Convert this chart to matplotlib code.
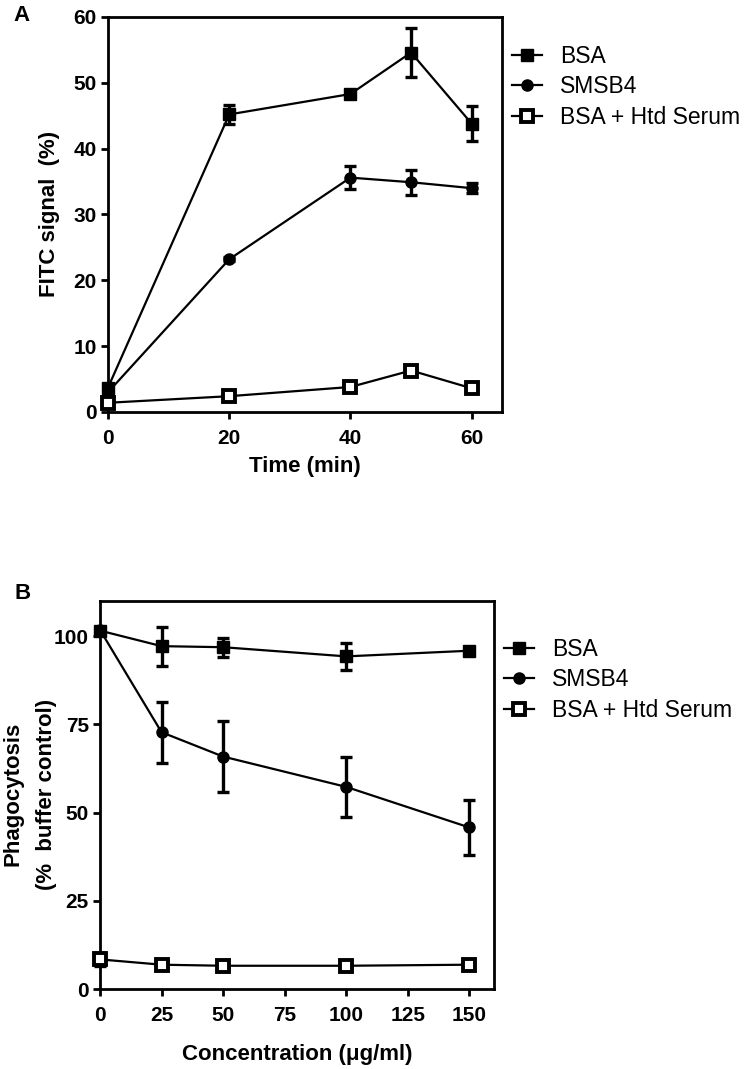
import matplotlib
matplotlib.use("Agg")
import matplotlib.pyplot as plt

plt.rcParams['font.family'] = ['Liberation Sans', 'DejaVu Sans']

# panel A: FITC signal over time
time_min = [0, 20, 40, 50, 60]
bsa_a = [3.7, 45.2, 48.3, 54.6, 43.8]
bsa_a_err = [0.5, 1.5, 0.4, 3.7, 2.7]
smsb4_a = [3.0, 23.2, 35.6, 34.9, 34.0]
smsb4_a_err = [0.4, 0.3, 1.8, 1.9, 0.8]
htd_a = [1.4, 2.4, 3.8, 6.3, 3.6]
htd_a_err = [0.3, 0.3, 0.3, 0.4, 0.3]

# panel B: phagocytosis vs concentration
conc = [0, 25, 50, 100, 150]
bsa_b = [101.6, 97.2, 96.9, 94.3, 95.9]
bsa_b_err = [0.5, 5.5, 2.7, 3.8, 0.5]
smsb4_b = [101.8, 72.8, 65.9, 57.3, 45.8]
smsb4_b_err = [0.5, 8.6, 10.0, 8.6, 7.8]
htd_b = [8.4, 6.9, 6.6, 6.6, 6.9]
htd_b_err = [1.8, 1.2, 1.2, 1.2, 1.2]

labels = ['BSA', 'SMSB4', 'BSA + Htd Serum']
styles = [('s', 'black', 8.5, 1), ('o', 'black', 8, 1), ('s', 'white', 8, 2.8)]


def draw(ax, x, series, leg_y):
    for (y, e), lab, (mk, mfc, ms, mew) in zip(series, labels, styles):
        ax.errorbar(x, y, yerr=e, fmt='none', ecolor='black', elinewidth=2.4,
                    capsize=4.5, capthick=2.4, clip_on=False, zorder=3)
        ax.plot(x, y, color='black', lw=1.6, marker=mk, ms=ms, mfc=mfc, mec='black',
                mew=mew, label=lab, clip_on=False, zorder=4)
    for s in ax.spines.values():
        s.set_linewidth(2)
    ax.tick_params(axis='both', direction='out', length=5, width=2, labelsize=15)
    ax.tick_params(axis='x', pad=7)
    ax.tick_params(axis='y', pad=3)
    ax.legend(loc='upper left', bbox_to_anchor=(1.025, leg_y), frameon=False,
              fontsize=16.5, handlelength=1.3, handletextpad=0.8, labelspacing=0.33,
              borderaxespad=0, borderpad=0)


fig = plt.figure(figsize=(7.49, 10.69), dpi=100)

axA = fig.add_axes([0.1442, 0.6146, 0.526, 0.3695])
draw(axA, time_min, [(bsa_a, bsa_a_err), (smsb4_a, smsb4_a_err), (htd_a, htd_a_err)], 0.93)
axA.set_xlim(0, 65)
axA.set_ylim(0, 60)
axA.set_xticks([0, 20, 40, 60])
axA.set_yticks([0, 10, 20, 30, 40, 50, 60])
for t in axA.get_xticklabels() + axA.get_yticklabels():
    t.set_fontweight('bold')
axA.set_xlabel('Time (min)', fontsize=16, fontweight='bold')
axA.xaxis.set_label_coords(0.5, -0.112)
fig.text(50 / 749, 1 - 214 / 1069, 'FITC signal  (%)', fontsize=16, fontweight='bold',
         rotation=90, ha='center', va='center')
fig.text(13 / 749, 1 - 5 / 1069, 'A', fontsize=16, fontweight='bold', va='top')

axB = fig.add_axes([0.1335, 0.0748, 0.526, 0.363])
draw(axB, conc, [(bsa_b, bsa_b_err), (smsb4_b, smsb4_b_err), (htd_b, htd_b_err)], 0.905)
axB.set_xlim(0, 160)
axB.set_ylim(0, 110)
axB.set_xticks([0, 25, 50, 75, 100, 125, 150])
axB.set_yticks([0, 25, 50, 75, 100])
for t in axB.get_xticklabels() + axB.get_yticklabels():
    t.set_fontweight('bold')
axB.set_xlabel('Concentration (\u03bcg/ml)', fontsize=16, fontweight='bold')
axB.xaxis.set_label_coords(0.5, -0.142)
fig.text(30 / 749, 1 - 794 / 1069, 'Phagocytosis\n(%  buffer control)', fontsize=16,
         fontweight='bold', rotation=90, ha='center', va='center', linespacing=1.75,
         multialignment='center')
fig.text(15 / 749, 1 - 583 / 1069, 'B', fontsize=16, fontweight='bold', va='top')

fig.savefig('out.png', dpi=100)
